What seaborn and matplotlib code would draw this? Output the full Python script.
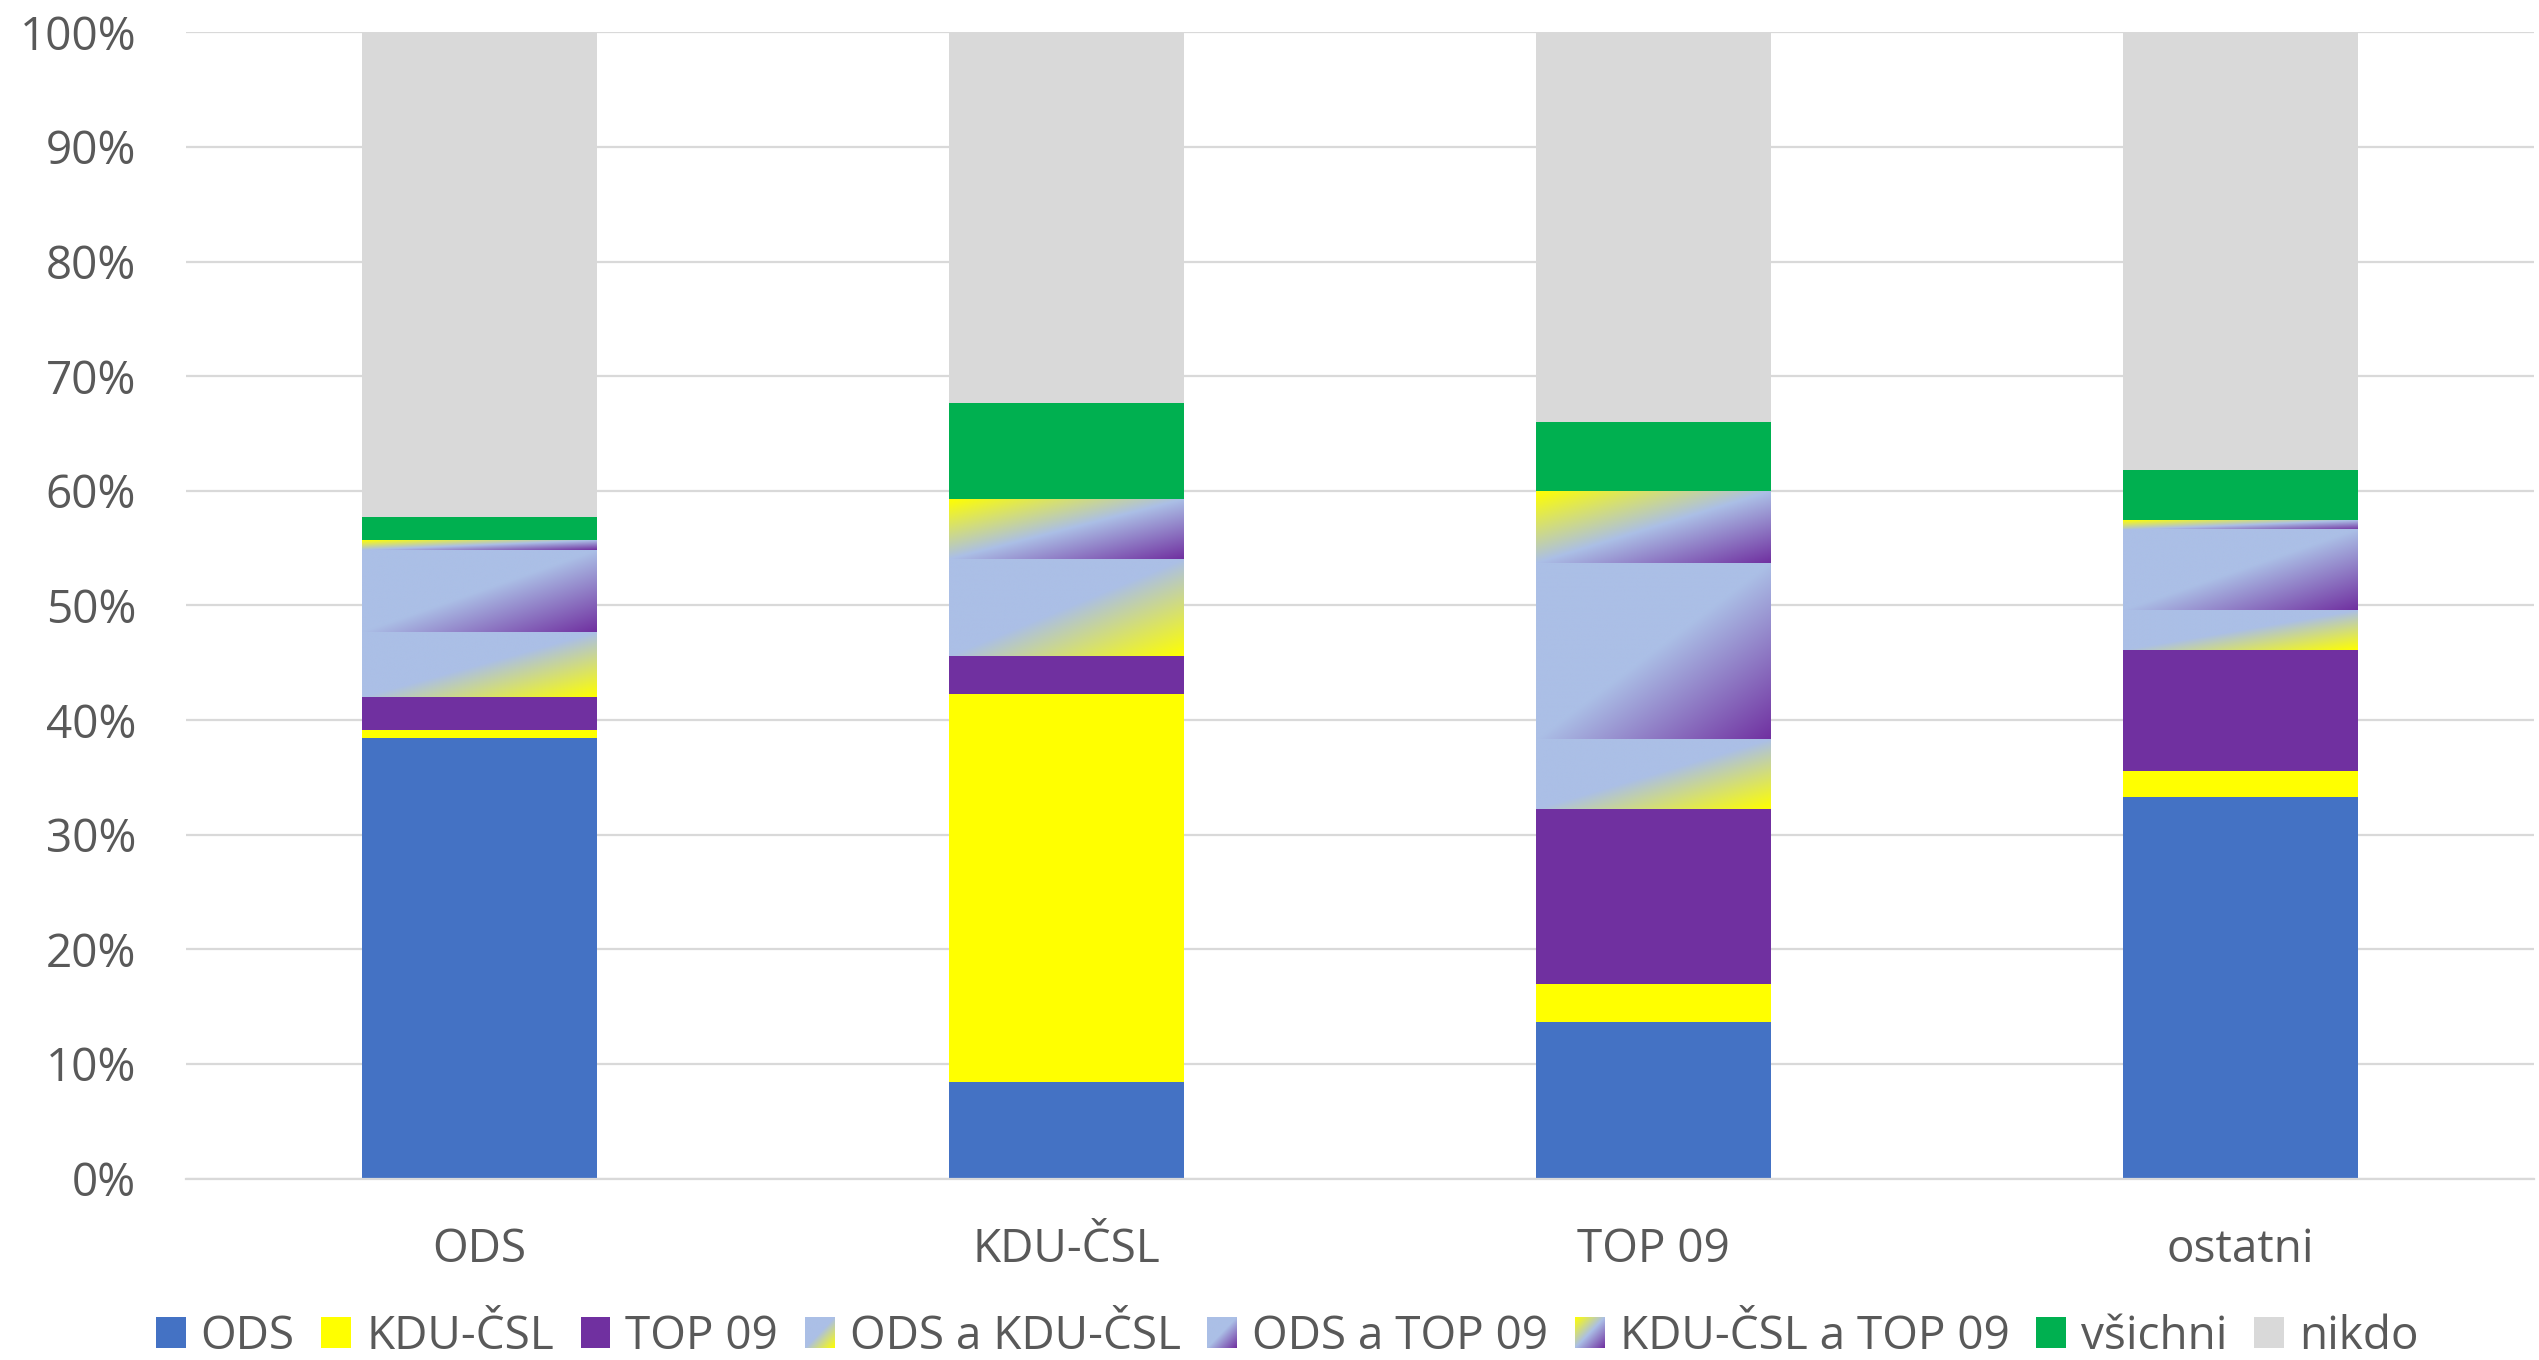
import numpy as np
import pandas as pd
import matplotlib
matplotlib.use("Agg")
import matplotlib.pyplot as plt
import seaborn as sns
from matplotlib.colors import to_rgb
from matplotlib.patches import Patch
from matplotlib.legend_handler import HandlerBase
from matplotlib.image import BboxImage
from matplotlib.transforms import Bbox, TransformedBbox
from matplotlib.ticker import FuncFormatter, MultipleLocator

# ---------------- data ----------------
categories = ["ODS", "KDU-ČSL", "TOP 09", "ostatni"]
series_names = ["ODS", "KDU-ČSL", "TOP 09", "ODS a KDU-ČSL", "ODS a TOP 09",
                "KDU-ČSL a TOP 09", "všichni", "nikdo"]
ods = [38.45, 8.4, 13.7, 33.25]
kdu = [0.7, 33.9, 3.25, 2.35]
top09 = [2.9, 3.3, 15.25, 10.55]
ods_kdu = [5.65, 8.45, 6.1, 3.45]
ods_top = [7.15, 0.0, 15.4, 7.0]
kdu_top = [0.8, 5.15, 6.2, 0.8]
vsichni = [2.05, 8.45, 6.1, 4.4]
nikdo = [42.3, 32.35, 34.0, 38.2]

# ---------------- styles ----------------
BLUE = "#4472C4"
YELLOW = "#FFFF00"
PURPLE = "#7030A0"
LIGHT = "#ABBFE6"
GREEN = "#00B050"
GRAY = "#D9D9D9"
TEXT = "#595959"

styles = {
    "ODS": ("solid", BLUE),
    "KDU-ČSL": ("solid", YELLOW),
    "TOP 09": ("solid", PURPLE),
    "ODS a KDU-ČSL": ("grad", [(0.0, LIGHT), (0.5, LIGHT), (1.0, YELLOW)]),
    "ODS a TOP 09": ("grad", [(0.0, LIGHT), (0.5, LIGHT), (1.0, PURPLE)]),
    "KDU-ČSL a TOP 09": ("grad", [(0.0, YELLOW), (0.5, LIGHT), (1.0, PURPLE)]),
    "všichni": ("solid", GREEN),
    "nikdo": ("solid", GRAY),
}


def gradient_img(stops, nx=256, ny=256):
    u = np.linspace(0, 1, nx)[None, :]
    v = np.linspace(0, 1, ny)[:, None]
    t = (u + v) / 2.0
    pos = [s[0] for s in stops]
    cols = np.array([to_rgb(s[1]) for s in stops])
    return np.stack([np.interp(t, pos, cols[:, k]) for k in range(3)], axis=-1)


df = pd.DataFrame({
    "ODS": ods, "KDU-ČSL": kdu, "TOP 09": top09, "ODS a KDU-ČSL": ods_kdu,
    "ODS a TOP 09": ods_top, "KDU-ČSL a TOP 09": kdu_top, "všichni": vsichni,
    "nikdo": nikdo,
}, index=categories)[series_names]
cum = df.cumsum(axis=1)
below = cum - df

sns.set_theme(style="white")
plt.rcParams["font.family"] = ["Open Sans", "DejaVu Sans"]

fig = plt.figure(figsize=(25.39, 13.6), dpi=100)
ax = fig.add_axes([186 / 2539, 1 - 1178.6 / 1360, (2534 - 186) / 2539,
                   (1178.6 - 32.3) / 1360])

for name in reversed(series_names):
    kind, spec = styles[name]
    color = spec if kind == "solid" else LIGHT
    sns.barplot(x=categories, y=list(cum[name].values), order=categories,
                color=color, saturation=1, width=0.4, errorbar=None,
                linewidth=0, ax=ax)
    if kind == "grad":
        img = gradient_img(spec)
        cont = ax.containers[-1]
        for i, patch in enumerate(cont.patches):
            b = below[name].iloc[i]
            t = cum[name].iloc[i]
            if t - b <= 0:
                continue
            x0 = patch.get_x()
            x1 = x0 + patch.get_width()
            ax.imshow(img, extent=(x0, x1, b, t), origin="upper",
                      aspect="auto", zorder=1, interpolation="bilinear")

ax.set_xlim(-0.5, 3.5)
ax.set_ylim(0, 100)
ax.yaxis.set_major_locator(MultipleLocator(10))
ax.yaxis.set_major_formatter(FuncFormatter(lambda v, p: f"{v:.0f}%"))
ax.yaxis.grid(True, color=GRAY, linewidth=1.6)
ax.set_axisbelow(True)
for s in ["top", "left", "right"]:
    ax.spines[s].set_visible(False)
ax.spines["bottom"].set_color(GRAY)
ax.spines["bottom"].set_linewidth(1.6)
ax.set_xlabel("")
ax.set_ylabel("")
ax.tick_params(axis="both", length=0, labelsize=33, colors=TEXT)
ax.tick_params(axis="y", pad=36)
ax.tick_params(axis="x", pad=35)


class GradHandler(HandlerBase):
    def __init__(self, img):
        super().__init__()
        self.img = img

    def create_artists(self, legend, orig_handle, xdescent, ydescent,
                       width, height, fontsize, trans):
        bb = Bbox.from_bounds(-xdescent, -ydescent, width, height)
        im = BboxImage(TransformedBbox(bb, trans), interpolation="bilinear")
        im.set_data(self.img)
        return [im]


handles = []
hmap = {}
for name in series_names:
    kind, spec = styles[name]
    if kind == "solid":
        h = Patch(facecolor=spec, edgecolor="none")
    else:
        h = Patch(facecolor=LIGHT, edgecolor="none")
        hmap[h] = GradHandler(gradient_img(spec, 64, 64))
    handles.append(h)

fig.legend(handles, series_names, handler_map=hmap, loc="center",
           bbox_to_anchor=(0.507, 0.0172), ncol=8, frameon=False,
           fontsize=33, handlelength=0.65, handleheight=0.65,
           handletextpad=0.33, columnspacing=0.58, labelcolor=TEXT,
           borderpad=0, borderaxespad=0)

fig.savefig("out.png", dpi=100)
